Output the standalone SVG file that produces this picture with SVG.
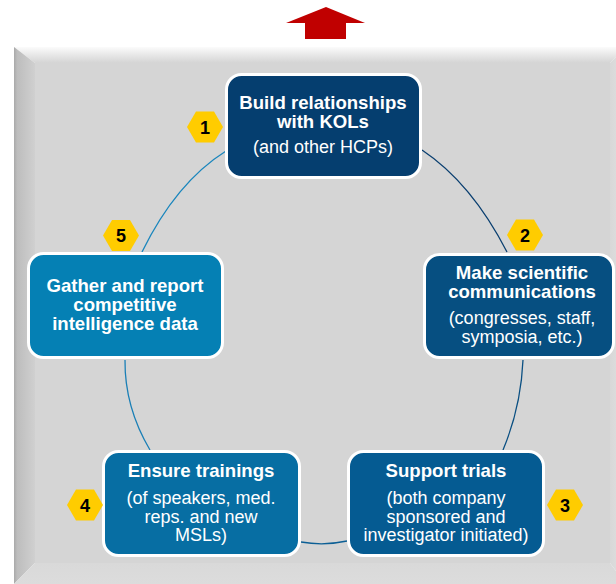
<svg xmlns="http://www.w3.org/2000/svg" width="616" height="584" viewBox="0 0 616 584">
<defs>
<linearGradient id="gTop" x1="0" y1="0" x2="0" y2="1"><stop offset="0" stop-color="#fbfbfb"/><stop offset="1" stop-color="#d4d4d4"/></linearGradient>
<linearGradient id="gLeft" x1="0" y1="0" x2="1" y2="0"><stop offset="0" stop-color="#a9a9a9"/><stop offset="0.15" stop-color="#bdbdbd"/><stop offset="1" stop-color="#d0d0d0"/></linearGradient>
<linearGradient id="gRight" x1="0" y1="0" x2="1" y2="0"><stop offset="0" stop-color="#d8d8d8"/><stop offset="1" stop-color="#e2e2e2"/></linearGradient>
<linearGradient id="gBot" x1="0" y1="0" x2="0" y2="1"><stop offset="0" stop-color="#d9d9d9"/><stop offset="1" stop-color="#dcdcdc"/></linearGradient>
</defs>
<style>
.box{stroke:#ffffff;stroke-width:3}
.t{font-family:"Liberation Sans",Arial,sans-serif;fill:#ffffff;text-anchor:middle;font-size:18px}
.b{font-weight:bold;font-size:18.6px}
.hex{fill:#ffcc00}
.n{font-family:"Liberation Sans",Arial,sans-serif;fill:#000000;text-anchor:middle;font-size:18px;font-weight:bold}
.c{fill:none;stroke-width:1.3}
</style>
<rect x="0" y="0" width="616" height="584" fill="#ffffff"/>
<polygon points="286,23 326,7 365,23 346,23 346,39 305,39 305,23" fill="#c00000"/>
<g id="panel">
<rect x="35" y="63" width="576" height="500" fill="#d5d5d5"/>
<polygon points="14,47 626,47 610,63 35,63" fill="url(#gTop)"/>
<polygon points="14,47 35,63 35,563 14,584" fill="url(#gLeft)"/>
<polygon points="626,47 610,63 610,563 626,584" fill="url(#gRight)"/>
<polygon points="14,584 35,563 610,563 626,584" fill="url(#gBot)"/>
</g>
<g id="connectors">
<path class="c" stroke="#1a86bd" d="M226,151 Q176,182.5 142,252"/>
<path class="c" stroke="#0a3f70" d="M422,150 Q471.5,183 507,252"/>
<path class="c" stroke="#1a7fb6" d="M125,360 Q124.5,407 150,450"/>
<path class="c" stroke="#0a4f82" d="M523,360 Q521,407 503,450"/>
<path class="c" stroke="#0c5f95" d="M301,542 Q324,546 347,541"/>
</g>
<g id="node1">
<rect class="box" x="226.5" y="74.5" width="194" height="103" rx="15" fill="#053e6f"/>
<text class="t b" x="323" y="109">Build relationships</text>
<text class="t b" x="323" y="128">with KOLs</text>
<text class="t" x="323" y="153">(and other HCPs)</text>
<polygon class="hex" points="187,127 196,111.5 214,111.5 223,127 214,142.5 196,142.5"/>
<text class="n" x="205" y="133.5">1</text>
</g>
<g id="node2">
<rect class="box" x="424.5" y="254.5" width="189" height="103" rx="15" fill="#064f81"/>
<text class="t b" x="522" y="279">Make scientific</text>
<text class="t b" x="522" y="298">communications</text>
<text class="t" x="522" y="324">(congresses, staff,</text>
<text class="t" x="522" y="343">symposia, etc.)</text>
<polygon class="hex" points="507,235 516,219.5 534,219.5 543,235 534,250.5 516,250.5"/>
<text class="n" x="525" y="241.5">2</text>
</g>
<g id="node3">
<rect class="box" x="348.5" y="451.5" width="195" height="104" rx="15" fill="#055b92"/>
<text class="t b" x="446" y="477">Support trials</text>
<text class="t" x="446" y="504">(both company</text>
<text class="t" x="446" y="522.5">sponsored and</text>
<text class="t" x="446" y="541">investigator initiated)</text>
<polygon class="hex" points="547,505 556,489.5 574,489.5 583,505 574,520.5 556,520.5"/>
<text class="n" x="565" y="511.5">3</text>
</g>
<g id="node4">
<rect class="box" x="103.5" y="451.5" width="196" height="104" rx="15" fill="#076ea3"/>
<text class="t b" x="201" y="477">Ensure trainings</text>
<text class="t" x="201" y="504">(of speakers, med.</text>
<text class="t" x="201" y="522.5">reps. and new</text>
<text class="t" x="201" y="541">MSLs)</text>
<polygon class="hex" points="67,505 76,489.5 94,489.5 103,505 94,520.5 76,520.5"/>
<text class="n" x="85" y="511.5">4</text>
</g>
<g id="node5">
<rect class="box" x="28.5" y="253.5" width="194" height="104" rx="15" fill="#0580b4"/>
<text class="t b" x="125" y="292">Gather and report</text>
<text class="t b" x="125" y="311">competitive</text>
<text class="t b" x="125" y="330">intelligence data</text>
<polygon class="hex" points="103,235.5 112,220 130,220 139,235.5 130,251 112,251"/>
<text class="n" x="121" y="242">5</text>
</g>
</svg>
